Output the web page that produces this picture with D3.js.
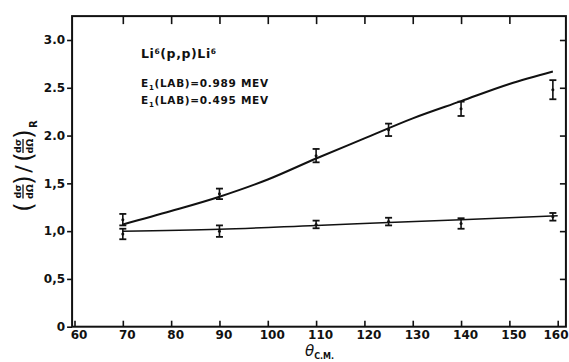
<!DOCTYPE html>
<html>
<head>
<meta charset="utf-8">
<script src="https://cdn.jsdelivr.net/npm/d3@7"></script>
<style>
  html, body { margin: 0; padding: 0; background: #fff; }
  svg { display: block; }
  text { font-family: 'DejaVu Sans', sans-serif; fill: #111; }
</style>
</head>
<body>
<div class="container"></div>
<script>
// measured points, E1(LAB) = 0.989 and 0.495 MeV
const angles = [70, 90, 110, 125, 140, 159];
const high = [1.12, 1.39, 1.79, 2.06, 2.28, 2.48];
const highErr = [0.06, 0.055, 0.07, 0.065, 0.075, 0.1];
const low = [0.97, 1.00, 1.07, 1.10, 1.08, 1.15];
const lowErr = [0.055, 0.06, 0.04, 0.04, 0.055, 0.04];

// hand-drawn curves through the points
const fitHighAngles = [70, 80, 90, 100, 110, 120, 130, 140, 150, 159];
const fitHigh = [1.07, 1.21, 1.36, 1.54, 1.76, 1.97, 2.18, 2.36, 2.54, 2.67];
const fitLowAngles = [70, 90, 110, 125, 140, 160];
const fitLow = [1.00, 1.02, 1.06, 1.09, 1.12, 1.16];

const xTicks = [60, 70, 80, 90, 100, 110, 120, 130, 140, 150, 160];
const yTicks = [0, 0.5, 1.0, 1.5, 2.0, 2.5, 3.0];
const yTickLabels = ['0', '0,5', '1,0', '1,5', '2.0', '2.5', '3.0'];

const width = 569;
const height = 362;

const xScale = d3.scaleLinear().domain([60, 160]).range([74.5, 557.7]);
const yScale = d3.scaleLinear().domain([0, 3]).range([326.7, 40]);

const box = { x0: 59.5, x1: 161.7, y0: 0, y1: 3.25 };

const svg = d3.select('.container')
  .append('svg')
  .attr('width', width)
  .attr('height', height);

// frame
svg.append('rect')
  .attr('x', xScale(box.x0))
  .attr('y', yScale(box.y1))
  .attr('width', xScale(box.x1) - xScale(box.x0))
  .attr('height', yScale(box.y0) - yScale(box.y1))
  .attr('fill', 'none')
  .attr('stroke', '#111')
  .attr('stroke-width', 2);

const xAxis = d3.axisBottom(xScale).tickValues(xTicks).tickSize(-6).tickPadding(4);
const yAxis = d3.axisLeft(yScale).tickValues(yTicks).tickSize(5).tickPadding(2)
  .tickFormat((d, i) => yTickLabels[i]);
const topAxis = d3.axisTop(xScale).tickValues(xTicks.slice(1, -1)).tickSize(-8).tickFormat('');
const rightAxis = d3.axisRight(yScale).tickValues(yTicks.slice(1)).tickSize(-6).tickFormat('');

function styleAxis(g) {
  g.select('.domain').remove();
  g.selectAll('.tick line').attr('stroke', '#111').attr('stroke-width', 1.6);
  g.selectAll('.tick text')
    .attr('fill', '#111')
    .style('font-family', "'DejaVu Sans', sans-serif")
    .style('font-size', '12px')
    .style('font-weight', 'bold');
}

svg.append('g')
  .attr('transform', `translate(0, ${yScale(0)})`)
  .call(xAxis)
  .call(styleAxis)
  .selectAll('.tick text')
  .attr('dx', d => d === 160 ? 0 : 4)
  .attr('text-anchor', d => d === 160 ? 'end' : 'middle')
  .attr('x', d => d === 160 ? width - 1 - xScale(160) : 0);

svg.append('g')
  .attr('transform', `translate(${xScale(box.x0)}, 0)`)
  .call(yAxis)
  .call(styleAxis);

svg.append('g')
  .attr('transform', `translate(0, ${yScale(box.y1)})`)
  .call(topAxis)
  .call(styleAxis);

svg.append('g')
  .attr('transform', `translate(${xScale(box.x1)}, 0)`)
  .call(rightAxis)
  .call(styleAxis);

// curves
const line = d3.line()
  .x(d => xScale(d[0]))
  .y(d => yScale(d[1]))
  .curve(d3.curveMonotoneX);

svg.append('path')
  .attr('d', line(d3.zip(fitHighAngles, fitHigh)))
  .attr('fill', 'none')
  .attr('stroke', '#111')
  .attr('stroke-width', 2);

svg.append('path')
  .attr('d', line(d3.zip(fitLowAngles, fitLow)))
  .attr('fill', 'none')
  .attr('stroke', '#111')
  .attr('stroke-width', 1.5);

// error bars
function errorBars(vals, errs, cls) {
  const g = svg.append('g').attr('class', cls);
  const rows = angles.map((a, i) => ({ a, v: vals[i], e: errs[i] }));
  const cap = 3.5;
  const sel = g.selectAll('g').data(rows).enter().append('g');
  sel.append('line')
    .attr('x1', d => xScale(d.a)).attr('x2', d => xScale(d.a))
    .attr('y1', d => yScale(d.v - d.e)).attr('y2', d => yScale(d.v + d.e))
    .attr('stroke', '#111').attr('stroke-width', 1.6);
  sel.append('line')
    .attr('x1', d => xScale(d.a) - cap).attr('x2', d => xScale(d.a) + cap)
    .attr('y1', d => yScale(d.v + d.e)).attr('y2', d => yScale(d.v + d.e))
    .attr('stroke', '#111').attr('stroke-width', 1.8);
  sel.append('line')
    .attr('x1', d => xScale(d.a) - cap).attr('x2', d => xScale(d.a) + cap)
    .attr('y1', d => yScale(d.v - d.e)).attr('y2', d => yScale(d.v - d.e))
    .attr('stroke', '#111').attr('stroke-width', 1.8);
  sel.append('circle')
    .attr('cx', d => xScale(d.a)).attr('cy', d => yScale(d.v))
    .attr('r', 1.5).attr('fill', '#111');
}
errorBars(high, highErr, 'high');
errorBars(low, lowErr, 'low');

// annotation
const note = svg.append('g').style('font-weight', 'bold');
const t1 = note.append('text').attr('x', 141).attr('y', 58)
  .style('font-size', '12.5px').style('letter-spacing', '0.6px');
t1.append('tspan').text('Li');
t1.append('tspan').attr('dy', -4).style('font-size', '7.5px').text('6');
t1.append('tspan').attr('dy', 4).text('(p,p)Li');
t1.append('tspan').attr('dy', -4).style('font-size', '7.5px').text('6');

[['0.989', 87], ['0.495', 104]].forEach(([e, y]) => {
  const t = note.append('text').attr('x', 141).attr('y', y)
    .style('font-size', '10.5px').style('letter-spacing', '0.7px');
  t.append('tspan').text('E');
  t.append('tspan').attr('dy', 3).style('font-size', '7px').text('1');
  t.append('tspan').attr('dy', -3).text(`(LAB)=${e}  MEV`);
});

// x label
const xl = svg.append('text').attr('x', 305).attr('y', 356);
xl.append('tspan').style('font-size', '15px').style('font-style', 'italic').text('θ');
xl.append('tspan').attr('dy', 3).style('font-size', '8px').style('font-weight', 'bold').text('C.M.');

// y label: (dσ/dΩ)/(dσ/dΩ)R, rotated
const yl = svg.append('g')
  .attr('transform', 'translate(23, 211) rotate(-90)')
  .style('font-weight', 'bold');

function frac(g, cx) {
  g.append('text').attr('x', cx).attr('y', -2.5).attr('text-anchor', 'middle')
    .style('font-size', '9.5px').text('dσ');
  g.append('text').attr('x', cx).attr('y', 9.5).attr('text-anchor', 'middle')
    .style('font-size', '9.5px').text('dΩ');
  g.append('line').attr('x1', cx - 7).attr('x2', cx + 7).attr('y1', 0).attr('y2', 0)
    .attr('stroke', '#111').attr('stroke-width', 1.3);
}
function paren(g, x, ch) {
  g.append('text').attr('x', x).attr('y', 8.5).attr('text-anchor', 'middle')
    .style('font-size', '25px').style('font-weight', 'normal').text(ch);
}
paren(yl, 4, '(');
frac(yl, 19.5);
paren(yl, 31, ')');
yl.append('text').attr('x', 42).attr('y', 8).attr('text-anchor', 'middle')
  .style('font-size', '22px').style('font-weight', 'normal').text('/');
paren(yl, 54, '(');
frac(yl, 65);
paren(yl, 77, ')');
yl.append('text').attr('x', 83).attr('y', 14).style('font-size', '10px').text('R');
</script>
</body>
</html>
